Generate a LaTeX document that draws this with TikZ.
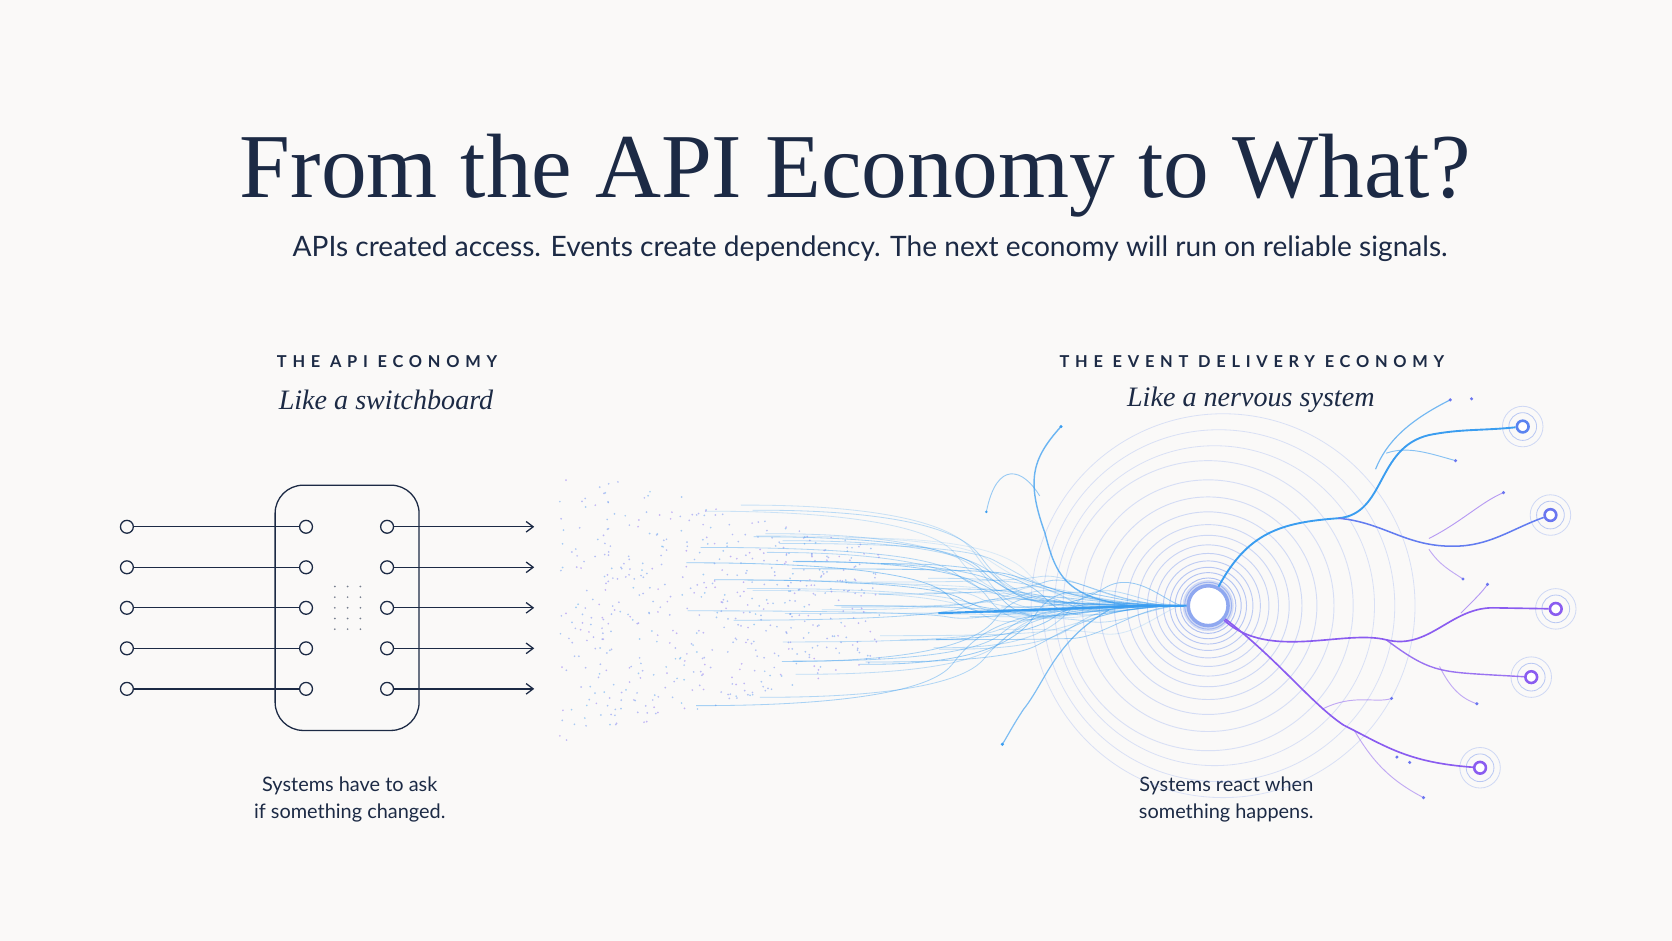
\documentclass[tikz,border=0pt]{standalone}
\usetikzlibrary{arrows.meta}
\usepackage{fontspec}
\setmainfont{Liberation Serif}
\newfontfamily\sansf{Lato}
\newfontfamily\sanss[LetterSpace=35]{Lato}
\begin{document}
\begin{tikzpicture}[x=0.031994cm,y=-0.031994cm,
  ink/.style={draw=inkc,line width=1.1pt},
  port/.style={circle,draw=inkc,line width=1.1pt,minimum size=11pt,inner sep=0pt,fill=bgc},
  lbl/.style={font=\sanss\bfseries\fontsize{14}{16}\selectfont,text=inkc},
  sub/.style={font=\itshape\fontsize{24}{26}\selectfont,text=inkc},
  captxt/.style={font=\sansf\fontsize{17}{23}\selectfont,text=inkc,align=center},
  nerveB/.style={draw=blueN,line width=0.9pt},
  nerveP/.style={draw=purpN,line width=0.9pt},
  tgt/.style={circle,draw=#1,line width=2.2pt,minimum size=10pt,inner sep=0pt,fill=white}]
\definecolor{bgc}{HTML}{FAF9F8}
\definecolor{inkc}{HTML}{1C2A45}
\definecolor{blueN}{HTML}{3A9DF0}
\definecolor{purpN}{HTML}{8A5CF0}
\definecolor{ringc}{HTML}{8FA8F0}
\fill[bgc] (0,0) rectangle (1568,882);
\useasboundingbox (0,0) rectangle (1568,882);
% title
\node[text=inkc,font=\fontsize{78}{82}\selectfont] (title) at (802,165) {From the API Economy to What?};
\node[font=\sansf\fontsize{24}{28}\selectfont,text=inkc] (subtitle) at (816,233) {APIs created access. Events create dependency. The next economy will run on reliable signals.};
% left section
\node[lbl] (l1) at (363,339) {THE API ECONOMY};
\node[sub] (l2) at (362,375) {Like a switchboard};
\draw[ink,rounded corners=24] (258,455) rectangle (393,685);
\foreach \i/\y in {1/494,2/532,3/570,4/608,5/646}{
  \node[port] (a\i) at (119,\y) {};
  \node[port] (b\i) at (287,\y) {};
  \node[port] (c\i) at (363,\y) {};
  \coordinate (d\i) at (501,\y);
  \draw[ink] (a\i) -- (b\i);
  \draw[ink,-{Straight Barb[length=6pt,width=9pt]}] (c\i) -- (d\i);
}
\foreach \x in {314,326,338}\foreach \y in {550,560,...,590}{\fill[inkc!60] (\x,\y) circle (0.9);}
\node[captxt] (lc) at (328,750) {Systems have to ask\\if something changed.};
% right section
\node[lbl] (r1) at (1174,339) {THE EVENT DELIVERY ECONOMY};
\node[sub] (r2) at (1173,375) {Like a nervous system};
\node[captxt] (rc) at (1150,750) {Systems react when\\something happens.};
% particle field
\pgfmathsetseed{7}
\foreach \k in {1,...,560}{
  \pgfmathsetmacro\px{525+rnd*300}
  \pgfmathsetmacro\sp{110*(1-(\px-525)/420)+22}
  \pgfmathsetmacro\py{568+\sp*(2*rnd-1)}
  \pgfmathsetmacro\cc{rnd*100}
  \fill[blueN!\cc!purpN,opacity=0.45] (\px,\py) circle (0.9);
}
% rings
\foreach \r/\o in {14/0.9,18/0.8,22/0.75,26/0.7,31/0.65,36/0.6,42/0.55,49/0.5,57/0.45,66/0.42,76/0.4,88/0.38,102/0.35,118/0.32,136/0.3}{
  \draw[ringc,line width=0.8pt,opacity=\o] (1133,568) circle (\r);
}
\foreach \r/\dx in {150/6,165/10,180/14}{
  \draw[ringc,line width=0.7pt,opacity=0.3] (1133+\dx,568) circle (\r);
}
\fill[ringc,opacity=0.35] (1133,568) circle (24);
% left nerves
\pgfmathsetseed{21}
\foreach \k in {1,...,50}{
  \pgfmathsetmacro\ex{640+rnd*300}
  \pgfmathsetmacro\ey{568+(2*rnd-1)*(0.32*(1010-\ex))}
  \pgfmathsetmacro\my{568+(2*rnd-1)*35}
  \pgfmathsetmacro\ma{(1133+\ex)/2}
  \pgfmathsetmacro\op{0.15+0.4*rnd}
  \draw[nerveB,line width=0.7pt,opacity=\op] (1110,568) .. controls (\ma+60,568) and (\ma+30,\my) .. (\ma,{(\my+\ey)/2}) .. controls (\ma-30,\ey) and (\ex+40,\ey) .. (\ex,\ey);
}
\draw[nerveB,line width=1.8pt] (1115,568) .. controls (1050,568) and (980,572) .. (880,575);
\draw[nerveB,line width=1.2pt,opacity=0.75] (1060,568) .. controls (1000,560) and (990,540) .. (980,500) .. controls (962,450) and (968,430) .. (995,400);
\draw[nerveB,line width=1pt,opacity=0.65] (1040,572) .. controls (990,600) and (980,640) .. (960,665) .. controls (950,680) and (945,690) .. (940,698);
\draw[nerveB,line width=0.8pt,opacity=0.5] (975,465) .. controls (960,440) and (935,430) .. (925,480);
\fill[blueN] (995,400) circle (1.6) (940,698) circle (1.6) (925,480) circle (1.3);
% hub
\node[circle,fill=white,draw=ringc,line width=3pt,minimum size=34pt,inner sep=0pt] (hub) at (1133,568) {};
% targets
\node[tgt=blueN!60!purpN] (t1) at (1428,400) {};
\node[tgt=blueN!40!purpN] (t2) at (1454,483) {};
\node[tgt=purpN] (t3) at (1459,571) {};
\node[tgt=purpN] (t4) at (1436,635) {};
\node[tgt=purpN] (t5) at (1388,720) {};
\foreach \t in {t1,t2,t3,t4,t5}{
  \draw[ringc,line width=0.7pt,opacity=0.6] (\t) circle (13);
  \draw[ringc,line width=0.7pt,opacity=0.4] (\t) circle (19);
}
% right nerves
\draw[nerveB,line width=1.6pt] (hub) .. controls (1170,500) and (1200,490) .. (1255,486) .. controls (1300,482) and (1290,420) .. (1340,408) .. controls (1370,402) and (1390,404) .. (t1);
\draw[nerveB,line width=1pt,opacity=0.7] (1290,440) .. controls (1300,415) and (1320,395) .. (1360,375);
\draw[nerveB,line width=0.8pt,opacity=0.6] (1300,425) .. controls (1320,418) and (1340,425) .. (1365,432);
\draw[blueN!50!purpN,line width=1.3pt] (1255,486) .. controls (1300,490) and (1320,515) .. (1370,512) .. controls (1400,510) and (1420,495) .. (t2);
\draw[purpN,line width=0.8pt,opacity=0.6] (1340,505) .. controls (1370,490) and (1390,470) .. (1410,462);
\draw[purpN,line width=0.8pt,opacity=0.5] (1340,515) .. controls (1350,530) and (1360,535) .. (1372,543);
\draw[nerveP,line width=1.4pt] (hub) .. controls (1190,620) and (1260,590) .. (1300,600) .. controls (1340,610) and (1360,570) .. (1400,570) -- (t3);
\draw[purpN,line width=0.8pt,opacity=0.6] (1370,575) .. controls (1385,560) and (1390,555) .. (1395,548);
\draw[nerveP,line width=1.2pt,opacity=0.85] (1300,600) .. controls (1340,630) and (1350,630) .. (1400,633) -- (t4);
\draw[purpN,line width=0.8pt,opacity=0.5] (1350,625) .. controls (1360,645) and (1370,655) .. (1385,660);
\draw[nerveP,line width=1.4pt] (hub) .. controls (1200,620) and (1230,660) .. (1260,680) .. controls (1300,700) and (1320,715) .. (t5);
\draw[purpN,line width=0.8pt,opacity=0.5] (1270,685) .. controls (1285,710) and (1300,730) .. (1335,748);
\draw[purpN,line width=0.8pt,opacity=0.5] (1240,665) .. controls (1270,650) and (1290,660) .. (1305,655);
\foreach \p in {(1360,375),(1380,374),(1365,432),(1410,462),(1372,543),(1395,548),(1385,660),(1335,748),(1305,655),(1310,710),(1322,715)}{\fill[purpN!60!blueN] \p circle (1.6);}
\end{tikzpicture}
\end{document}
